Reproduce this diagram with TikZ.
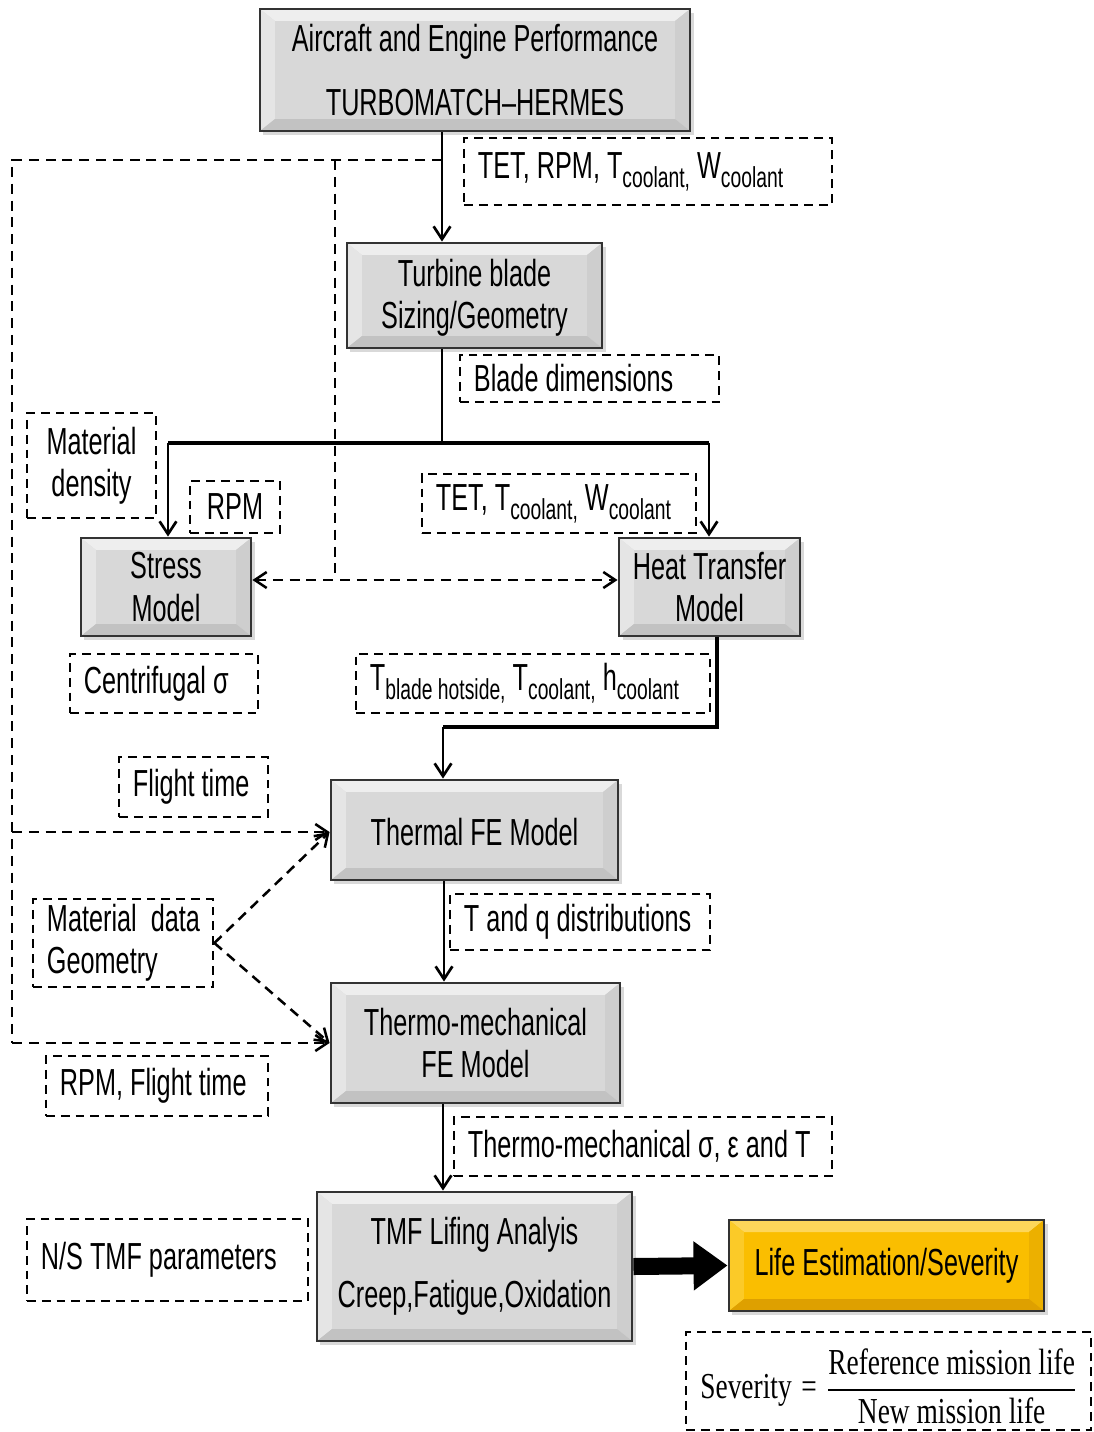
\documentclass[tikz,border=0pt]{standalone}
\usepackage{fontspec}
\usepackage{amsmath}
\setmainfont{Liberation Sans}[FakeStretch=0.67]
\newfontfamily\serifc{Liberation Serif}[FakeStretch=0.75]
\usetikzlibrary{arrows.meta,calc,shadows}
\definecolor{gmid}{RGB}{216,216,216}
\definecolor{gtop}{RGB}{238,238,238}
\definecolor{gleft}{RGB}{229,229,229}
\definecolor{gright}{RGB}{206,206,206}
\definecolor{gbot}{RGB}{194,194,194}
\definecolor{ymid}{RGB}{250,190,0}
\definecolor{ytop}{RGB}{253,214,90}
\definecolor{yleft}{RGB}{251,202,40}
\definecolor{yright}{RGB}{236,176,0}
\definecolor{ybot}{RGB}{222,160,0}
\newcommand\mainsz{\fontsize{26.8}{30}\selectfont}
\newcommand\sbs[1]{\raisebox{-0.24em}{\fontsize{20.5}{20.5}\selectfont #1}}
\newcommand\shiftdown[2]{\raisebox{-#1}[\dimexpr\height+#1\relax][\dimexpr\depth+#1\relax]{#2}}
\newcommand\bevelpic[4]{%
  \coordinate (bvA) at (path picture bounding box.south west);
  \coordinate (bvB) at (path picture bounding box.north east);
  \coordinate (bvC) at (path picture bounding box.north west);
  \coordinate (bvD) at (path picture bounding box.south east);
  \fill[#1] (bvC) -- (bvB) -- ($(bvB)+(-15,12)$) -- ($(bvC)+(15,12)$) -- cycle;
  \fill[#2] (bvC) -- ($(bvC)+(15,12)$) -- ($(bvA)+(15,-12)$) -- (bvA) -- cycle;
  \fill[#3] (bvB) -- (bvD) -- ($(bvD)+(-15,-12)$) -- ($(bvB)+(-15,12)$) -- cycle;
  \fill[#4] (bvA) -- (bvD) -- ($(bvD)+(-15,-12)$) -- ($(bvA)+(15,-12)$) -- cycle;
}
\tikzset{
  boxbase/.style={draw=black!80, line width=2pt, align=flush center, inner sep=0pt, font=\mainsz,
    drop shadow={shadow xshift=2.5pt, shadow yshift=-3pt, opacity=0.3}},
  gbox/.style={boxbase, fill=gmid, path picture={\bevelpic{gtop}{gleft}{gright}{gbot}}},
  ybox/.style={boxbase, fill=ymid, path picture={\bevelpic{ytop}{yleft}{yright}{ybot}}},
  dbox/.style={draw, line width=1.9pt, dash pattern=on 0.22cm off 0.15cm, align=flush left,
    inner xsep=0.35cm, inner ysep=0pt, font=\mainsz},
  dboxc/.style={dbox, align=flush center},
  arr/.style={line width=1.9pt, -{Straight Barb[length=0.32cm,width=0.42cm]}},
  mainline/.style={line width=1.9pt},
  thickline/.style={line width=3pt},
  fb/.style={line width=1.8pt, dash pattern=on 0.25cm off 0.17cm},
  fbarr/.style={fb, -{Straight Barb[length=0.3cm,width=0.4cm]}},
  fbdbl/.style={fb, {Straight Barb[length=0.3cm,width=0.4cm]}-{Straight Barb[length=0.3cm,width=0.4cm]}},
  blockarr/.style={line width=0.425cm, -{Triangle[length=0.85cm,width=1.175cm]}}
}
\begin{document}
\begin{tikzpicture}[x=0.025cm,y=-0.025cm]
\useasboundingbox (0,0) rectangle (1093,1432);

% main boxes
\node[gbox, minimum width=10.75cm, minimum height=3.05cm] (air) at (475,70)
  {Aircraft and Engine Performance\\[0.525cm]TURBOMATCH–HERMES};
\node[gbox, minimum width=6.375cm, minimum height=2.625cm] (tb) at (474.5,295.5)
  {\shiftdown{2.5pt}{\begin{tabular}{@{}c@{}}Turbine blade\\Sizing/Geometry\end{tabular}}};
\node[gbox, minimum width=4.25cm, minimum height=2.45cm] (st) at (166,587)
  {Stress\\Model};
\node[gbox, minimum width=4.525cm, minimum height=2.45cm] (ht) at (709.5,587)
  {Heat Transfer\\Model};
\node[gbox, minimum width=7.175cm, minimum height=2.5cm] (th) at (474.5,830)
  {\shiftdown{1.5pt}{Thermal FE Model}};
\node[gbox, minimum width=7.225cm, minimum height=3.0cm] (tm) at (475.5,1043)
  {Thermo-mechanical\\FE Model};
\node[gbox, minimum width=7.875cm, minimum height=3.725cm] (tmf) at (474.5,1266.5)
  {TMF Lifing Analyis\\[0.525cm]Creep,Fatigue,Oxidation};
\node[ybox, minimum width=7.875cm, minimum height=2.275cm] (life) at (886.5,1265.5)
  {Life Estimation/Severity};

% dashed label boxes
\node[dbox, text width=8.5cm, minimum height=1.675cm] (la) at (648,171.5)
  {\mbox{TET, RPM, T\sbs{coolant,} W\sbs{coolant}}};
\node[dbox, text width=5.775cm, minimum height=1.175cm] (lb) at (589.5,378.5)
  {\mbox{Blade dimensions}};
\node[dboxc, text width=2.525cm, minimum height=2.625cm] (lc) at (91.5,465.5)
  {Material\\density};
\node[dboxc, text width=1.55cm, minimum height=1.3cm] (ld) at (235,507)
  {RPM};
\node[dbox, text width=6.15cm, minimum height=1.475cm] (le) at (559,503.5)
  {\mbox{TET, T\sbs{coolant,} W\sbs{coolant}}};
\node[dbox, text width=4.0cm, minimum height=1.475cm] (lf) at (164,683.5)
  {\mbox{Centrifugal σ}};
\node[dbox, text width=8.15cm, minimum height=1.475cm] (lg) at (533,683.5)
  {\mbox{T\sbs{blade hotside,} T\sbs{coolant,} h\sbs{coolant}}};
\node[dbox, text width=3.025cm, minimum height=1.5cm] (lh) at (193.5,787)
  {\mbox{Flight time}};
\node[dbox, text width=5.8cm, minimum height=1.4cm] (li) at (580,922)
  {\mbox{T and q distributions}};
\node[dbox, text width=3.8cm, minimum height=2.2cm] (md) at (123,943)
  {\mbox{Material\ \ data}\\\mbox{Geometry}};
\node[dbox, text width=4.85cm, minimum height=1.5cm] (lk) at (157,1086)
  {\mbox{RPM, Flight time}};
\node[dbox, text width=8.75cm, minimum height=1.475cm] (ll) at (643,1146.5)
  {\mbox{Thermo-mechanical σ, ε and T}};
\node[dbox, text width=6.325cm, minimum height=2.05cm] (lm) at (167.5,1260)
  {\mbox{N/S TMF parameters}};
\node[dbox, align=flush center, minimum width=10.125cm, minimum height=2.45cm,
  font={\serifc\fontsize{26}{30}\selectfont}] (sev) at (888.5,1381)
  {\shiftdown{4pt}{$\text{Severity} \mathrel{\text{=}} \genfrac{}{}{1.5pt}{0}{\text{Reference mission life}}{\rule{0pt}{19pt}\text{New mission life}}$}};

% solid connectors
\coordinate (xa) at (442,0);
\draw[arr] (air.south -| xa) -- (tb.north -| xa);
\coordinate (jc) at (442,443);
\coordinate (jl) at (168,443);
\coordinate (jr) at (709,443);
\draw[mainline] (tb.south -| jc) -- (jc);
\draw[thickline] (jl) -- (jr);
\draw[arr] (jl) -- (st.north -| jl);
\draw[arr] (jr) -- (ht.north -| jr);
\coordinate (hx) at (717,727);
\coordinate (hy) at (443,727);
\draw[thickline] (ht.south -| hx) -- (hx) -- (hy);
\draw[arr] (hy) -- (th.north -| hy);
\coordinate (xb) at (444,0);
\draw[arr] (th.south -| xb) -- (tm.north -| xb);
\coordinate (xc) at (443,0);
\draw[arr] (tm.south -| xc) -- (tmf.north -| xc);
\draw[blockarr] (tmf.east) -- (life.west);

% dashed feedback connectors
\coordinate (fb0) at (442,160);
\coordinate (fb1) at (335,160);
\coordinate (fb2) at (12,160);
\coordinate (fb3) at (335,580);
\coordinate (fb4) at (12,832);
\coordinate (fb5) at (12,1043);
\draw[fb] (fb0) -- (fb2) -- (fb5);
\draw[fb] (fb1) -- (fb3);
\draw[fbdbl] (st.east |- fb3) -- (ht.west |- fb3);
\draw[fbarr] (fb4) -- (th.west |- fb4);
\draw[fbarr] (fb5) -- (tm.west |- fb5);
\draw[fbarr] (md.east) -- (th.west |- fb4);
\draw[fbarr] (md.east) -- (tm.west |- fb5);
\end{tikzpicture}
\end{document}
